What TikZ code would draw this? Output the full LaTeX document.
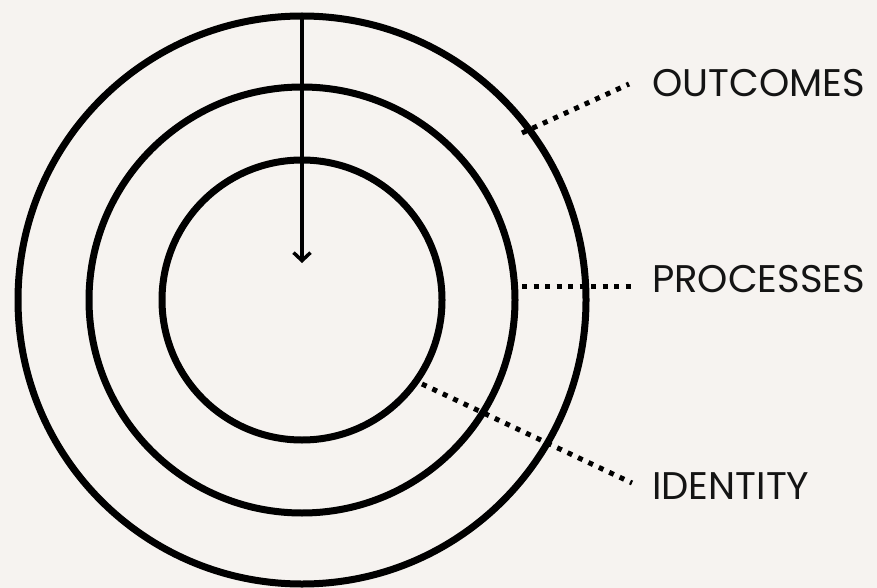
\documentclass[tikz,border=0pt]{standalone}
\usepackage{fontspec}
\setmainfont{Poppins}
\usetikzlibrary{arrows.meta}
\definecolor{bg}{HTML}{F6F3F0}
\tikzset{
  ring/.style={draw=black, line width=7pt},
  dotline/.style={draw=black, line width=5pt, dash pattern=on 5pt off 6.5pt},
  lbl/.style={anchor=west, inner sep=0pt, font=\fontsize{38.5}{39}\selectfont, text=black!92},
  arr/.style={draw=black, line width=3.5pt, -{Straight Barb[length=8pt,width=17pt,line width=3.5pt]}}
}
\begin{document}
\begin{tikzpicture}[x=1pt,y=-1pt]
\fill[bg] (0,0) rectangle (877,588);
\useasboundingbox (0,0) rectangle (877,588);
\coordinate (c) at (302,300);
\draw[ring] (c) circle[radius=284];
\draw[ring] (c) circle[radius=213];
\draw[ring] (c) circle[radius=140];
\coordinate (top) at (302,18);
\coordinate (tip) at (302,263);
\draw[arr] (top) -- (tip);
\coordinate (o1) at (522,133);
\coordinate (o2) at (629,84);
\coordinate (p1) at (522,286);
\coordinate (p2) at (633,286);
\coordinate (i1) at (422,384);
\coordinate (i2) at (632,483);
\draw[dotline] (o1) -- (o2);
\draw[dotline] (p1) -- (p2);
\draw[dotline] (i1) -- (i2);
\node[lbl] (out) at (652,83) {OUTCOMES};
\node[lbl] (proc) at (652,279) {PROCESSES};
\node[lbl] (id) at (652,486) {IDENTITY};
\end{tikzpicture}
\end{document}
